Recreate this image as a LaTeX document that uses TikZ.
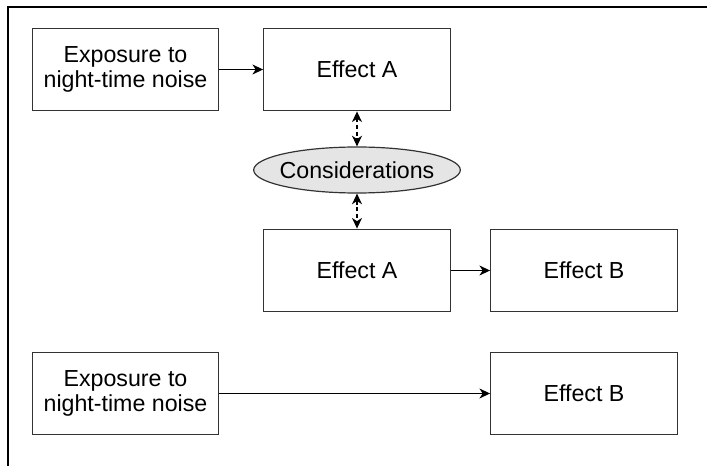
\documentclass[tikz,border=0pt]{standalone}
\usepackage{fontspec}
\setmainfont{Liberation Sans}
\usetikzlibrary{arrows.meta,shapes.geometric}
\tikzset{
  effectbox/.style={rectangle, draw=black!80, line width=0.9pt, minimum width=140pt, minimum height=62pt, inner sep=0pt, align=center, font=\fontsize{17.4}{19}\selectfont},
  considerbox/.style={ellipse, draw=black!80, line width=0.9pt, fill=black!10, minimum width=155pt, minimum height=34.5pt, inner sep=0pt, font=\fontsize{17.4}{19}\selectfont}
}
\begin{document}
\begin{tikzpicture}[x=0.75pt, y=-0.75pt, >={Stealth[length=8pt, width=7.5pt, inset=2.5pt]}]
        \useasboundingbox (0, 0) rectangle (707, 466);

        % Rahmen
        \draw[line width=2pt] (8, 466) -- (8, 7) -- (707, 7);

        % erste Zeile
        \node[effectbox] (E1) at (125.5, 69.5) {Exposure to\\night-time noise};
        \node[effectbox] (A1) at (357, 69.5) {Effect A};

        % Abwaegung
        \node[considerbox] (C) at (357, 170) {\makebox[0pt]{Considerations}};

        % zweite Zeile
        \node[effectbox] (A2) at (357, 270.5) {Effect A};
        \node[effectbox] (B1) at (584, 270.5) {Effect B};

        % dritte Zeile
        \node[effectbox] (E2) at (125.5, 393.5) {Exposure to\\night-time noise};
        \node[effectbox] (B2) at (584, 393.5) {Effect B};

        % Verbindungen
        \draw[->, line width=0.8pt] (E1) -- (A1);
        \draw[<->, line width=0.8pt, dash pattern=on 3pt off 2pt] (A1) -- (C);
        \draw[<->, line width=0.8pt, dash pattern=on 3pt off 2pt] (C) -- (A2);
        \draw[->, line width=0.8pt] (A2) -- (B1);
        \draw[->, line width=0.8pt] (E2) -- (B2);

    \end{tikzpicture}
\end{document}
